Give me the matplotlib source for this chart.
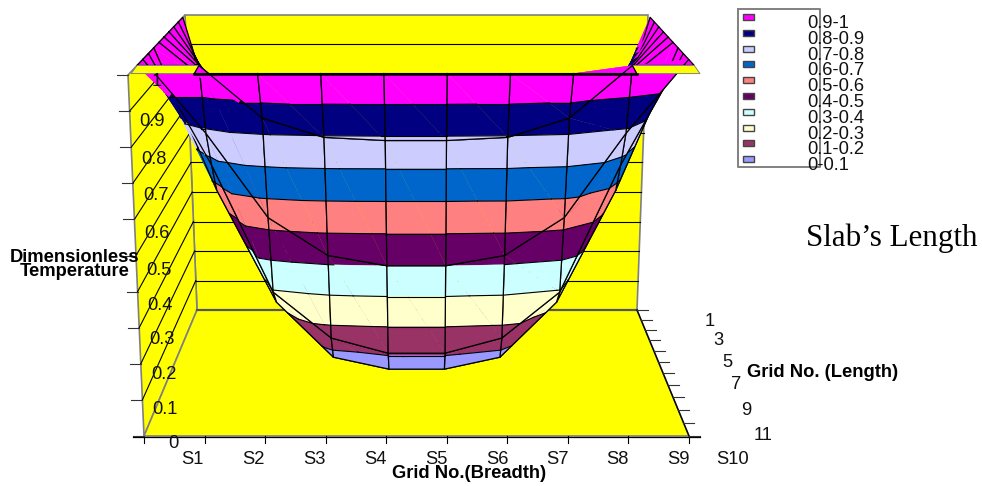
import numpy as np
import matplotlib
matplotlib.use("Agg")
import matplotlib.pyplot as plt

plt.rcParams['font.family'] = ['Liberation Sans', 'DejaVu Sans']

breadth_labels = ['S1', 'S2', 'S3', 'S4', 'S5', 'S6', 'S7', 'S8', 'S9', 'S10']
length_labels = ['1', '3', '5', '7', '9', '11']
temp_labels = ['0', '0.1', '0.2', '0.3', '0.4', '0.5', '0.6', '0.7', '0.8', '0.9', '1']
band_labels = ['0.9-1', '0.8-0.9', '0.7-0.8', '0.6-0.7', '0.5-0.6',
               '0.4-0.5', '0.3-0.4', '0.2-0.3', '0.1-0.2', '0-0.1']
band_colors = ['#FF00FF', '#000080', '#CCCCFF', '#0066CC', '#FF8080',
               '#660066', '#CCFFFF', '#FFFFCC', '#993366', '#9999FF']

# temperature per grid row, front of the chart (length 11) first
row_11 = [.995, .995, .995, .995, .995, .995, .995, .995, .995, .995]
row_10 = [1, 1, .85, .795, .786, .786, .795, .85, 1, 1]
row_9 = [1, .785, .54, .43, .40, .40, .43, .54, .785, 1]
row_8 = [1, .67, .293, .157, .112, .112, .157, .293, .67, 1]
row_7 = [1, .57, .232, .066, .03, .03, .066, .232, .57, 1]
row_6 = [1, .855, .25, .08, .03, .03, .08, .25, .855, 1]
row_5 = [1, .84, .3, .1, .04, .04, .1, .3, .84, 1]
row_4 = [1, .8, .3, .12, .05, .05, .12, .3, .8, 1]
row_3 = [1, .734, .3, .12, .05, .05, .12, .3, .734, 1]
row_2 = [1, .62, .3, .12, .05, .05, .12, .3, .62, 1]
row_1 = [1, .37, .2, .1, .05, .05, .1, .2, .37, 1]

Z = np.array([row_11, row_10, row_9, row_8, row_7, row_6,
              row_5, row_4, row_3, row_2, row_1], dtype=float)
nrow, ncol = Z.shape


def project(u, d, z):
    # u 0..1 across, d 0..1 front to back, z 0..1 up -> pixel position
    g = d / (d + 0.84 * (1 - d))
    left = (144 - 16 * z) * (1 - g) + (197 - 12 * z) * g
    right = (689 + 14 * z) * (1 - g) + (637 + 11 * z) * g
    y = (436 - 361 * z) * (1 - g) + (310 - 295 * z) * g
    return left + (right - left) * u, y


def clip(poly, level, keep_above):
    out = []
    for a, b in zip(poly, poly[1:] + poly[:1]):
        ina = a[2] >= level if keep_above else a[2] <= level
        inb = b[2] >= level if keep_above else b[2] <= level
        if ina:
            out.append(a)
        if ina != inb:
            t = (level - a[2]) / (b[2] - a[2])
            out.append(tuple(a[k] + (b[k] - a[k]) * t for k in range(3)))
    return out


def level_segment(tri, level):
    pts = []
    for a, b in zip(tri, tri[1:] + tri[:1]):
        if (a[2] - level) * (b[2] - level) < 0:
            t = (level - a[2]) / (b[2] - a[2])
            pts.append(tuple(a[k] + (b[k] - a[k]) * t for k in range(3)))
    return pts


def xy(poly):
    return zip(*[project(*p) for p in poly])


fig = plt.figure(figsize=(9.82, 4.86), dpi=100)
ax = fig.add_axes([0, 0, 1, 1])
ax.set_xlim(0, 982)
ax.set_ylim(486, 0)
ax.axis('off')

wall_gray = '#808080'
yellow = '#FFFF00'

# walls and floor
for corners in ([(0, 1, 0), (1, 1, 0), (1, 1, 1), (0, 1, 1)],
                [(0, 0, 0), (0, 1, 0), (0, 1, 1), (0, 0, 1)],
                [(0, 0, 0), (1, 0, 0), (1, 1, 0), (0, 1, 0)]):
    ax.fill(*xy(corners), facecolor=yellow, edgecolor=wall_gray, lw=1.2, zorder=1)

for k in range(1, 10):
    z = k / 10
    ax.plot(*xy([(0, 0, z), (0, 1, z)]), color='black', lw=0.8, zorder=2)
    ax.plot(*xy([(0, 1, z), (1, 1, z)]), color='black', lw=0.8, zorder=2)
ax.plot(*xy([(0, 1, 0), (1, 1, 0)]), color='#555555', lw=1.6, zorder=2)

# axis lines and ticks
x0, y0 = project(0, 0, 0)
x1, y1 = project(1, 0, 0)
ax.plot([x0 - 11, x1 + 11], [y0 + 1, y1 + 1], color='black', lw=0.9, zorder=3)
ax.plot(*xy([(1, 0, 0), (1, 1, 0)]), color='black', lw=1.0, zorder=3)
for i in range(ncol):
    tx, ty = project(i / (ncol - 1), 0, 0)
    ax.plot([tx, tx], [ty, ty + 7], color='black', lw=0.8, zorder=3)
for j in range(nrow + 1):
    tx, ty = project(1, j / nrow, 0)
    ax.plot([tx, tx + 11], [ty, ty], color='#333333', lw=0.8, zorder=3)
for k in range(11):
    tx, ty = project(0, 0, k / 10)
    ax.plot([tx - 11, tx], [ty, ty], color='#333333', lw=0.8, zorder=3)

# surface, painted from the back row forward and from the sides inward
order = 10
cols = sorted(range(ncol - 1), key=lambda i: -abs(i - (ncol - 2) / 2))
for j in range(nrow - 2, -1, -1):
    for i in cols:
        u0, u1 = i / (ncol - 1), (i + 1) / (ncol - 1)
        d0, d1 = (j + 0.5) / nrow, (j + 1.5) / nrow
        quad = [(u0, d0, Z[j, i]), (u1, d0, Z[j, i + 1]),
                (u1, d1, Z[j + 1, i + 1]), (u0, d1, Z[j + 1, i])]
        order += 1
        if min(p[2] for p in quad) >= 0.99:
            # flat at the axis maximum: Excel leaves these panels yellow
            ax.fill(*xy(quad), facecolor=yellow, edgecolor=wall_gray, lw=0.7, zorder=order)
            continue
        for tri in ([quad[0], quad[1], quad[2]], [quad[0], quad[2], quad[3]]):
            for b, color in enumerate(band_colors):
                hi = 1 - b / 10
                piece = clip(clip(tri, hi - 0.1, True), hi, False)
                if len(piece) >= 3:
                    ax.fill(*xy(piece), facecolor=color, edgecolor=color, lw=0.2, zorder=order)
        for tri in ([quad[0], quad[1], quad[2]], [quad[0], quad[2], quad[3]]):
            for k in range(1, 10):
                seg = level_segment(tri, k / 10)
                if len(seg) == 2:
                    ax.plot(*xy(seg), color='black', lw=0.8, zorder=order)
        ax.plot(*xy(quad + quad[:1]), color='black', lw=0.9, zorder=order)

order += 1
ax.plot(*xy([(i / (ncol - 1), 0.5 / nrow, Z[0, i]) for i in range(1, ncol - 1)]),
        color='black', lw=1.8, zorder=order)

# tick labels
tick_size = 13.2
temp_x = [173, 165, 164, 162, 160, 159, 157, 156, 154, 152, 157]
temp_y = [443, 409, 374, 339, 305, 270, 233, 195, 159, 121, 81]
for lab, tx, ty in zip(temp_labels, temp_x, temp_y):
    ax.text(tx, ty, lab, fontsize=tick_size, ha='center', va='center', color='#111111', zorder=order + 1)

breadth_x = [192, 253, 314, 375, 436, 497, 557, 617, 678, 733]
for lab, tx in zip(breadth_labels, breadth_x):
    ax.text(tx, 459, lab, fontsize=tick_size, ha='center', va='center', color='#111111', zorder=order + 1)

length_x = [710, 718, 727, 736, 746, 763]
length_y = [321, 340, 362, 384, 410, 435]
for lab, tx, ty in zip(length_labels, length_x, length_y):
    ax.text(tx, ty, lab, fontsize=tick_size, ha='center', va='center', color='#111111', zorder=order + 1)

# axis titles
ax.text(469, 473, 'Grid No.(Breadth)', fontsize=13.2, fontweight='bold', ha='center', va='center', zorder=order + 1)
ax.text(747, 372, 'Grid No. (Length)', fontsize=13.2, fontweight='bold', ha='left', va='center', zorder=order + 1)
ax.text(75, 257, 'Dimensionless', fontsize=13.2, fontweight='bold', ha='center', va='center', zorder=order + 1)
ax.text(75, 271, 'Temperature', fontsize=13.2, fontweight='bold', ha='center', va='center', zorder=order + 1)
ax.text(806, 238, 'Slab\u2019s Length', fontsize=22.3, family='Liberation Serif', ha='left', va='center', zorder=order + 1)

# legend box, labels run out past its right edge
ax.plot([738, 820, 820, 738, 738], [9, 9, 167, 167, 9], color=wall_gray, lw=1.4, zorder=order + 1)
for n, (lab, color) in enumerate(zip(band_labels, band_colors)):
    ax.fill([743, 754, 754, 743], [14 + n * 15.8, 14 + n * 15.8, 20 + n * 15.8, 20 + n * 15.8],
            facecolor=color, edgecolor='#444444', lw=1.0, zorder=order + 1)
    ax.text(807, 23.5 + n * 15.8, lab, fontsize=tick_size, ha='left', va='center', color='#111111', zorder=order + 2)

fig.savefig('out.png', dpi=100)
